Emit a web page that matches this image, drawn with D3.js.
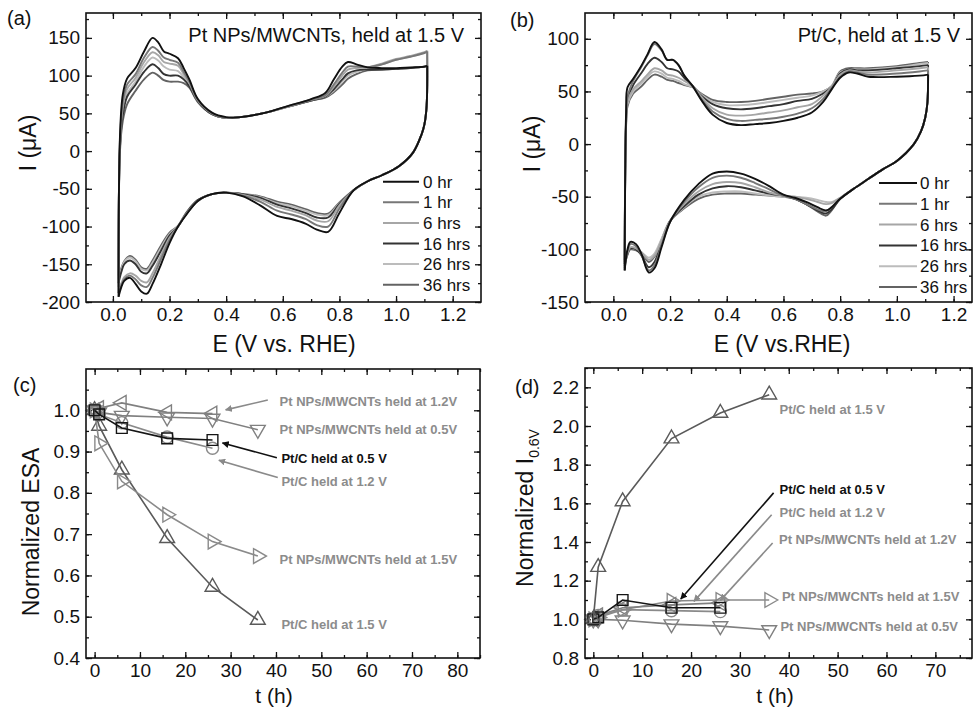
<!DOCTYPE html>
<html>
<head>
<meta charset="utf-8">
<script src="https://cdnjs.cloudflare.com/ajax/libs/d3/7.8.5/d3.min.js"></script>
<style>
body { margin: 0; background: #fff; }
svg { display: block; font-family: "Liberation Sans", Arial, sans-serif; }
.axis text { font-size: 19px; fill: #111; }
.axis path.domain { display: none; }
.axis line { stroke: #111; stroke-width: 1.3; }
.note { font-size: 13px; font-weight: bold; }
</style>
</head>
<body>
<div id="chart"></div>
<script>
// =============================================================================
// data
// =============================================================================

// CV curves ===================================================================
var timeLabels = ["0 hr", "1 hr", "6 hrs", "16 hrs", "26 hrs", "36 hrs"];

// (a) Pt NPs/MWCNTs, anodic scan
var aE_up = [0.02, 0.025, 0.035, 0.05, 0.08, 0.11, 0.14, 0.16, 0.18, 0.2, 0.23, 0.25, 0.27, 0.3, 0.35, 0.4,
             0.45, 0.54, 0.62, 0.7, 0.75, 0.78, 0.81, 0.83, 0.86, 0.9, 0.95, 1.0, 1.05, 1.1, 1.11];
var aI_up = [
    [-193, 20, 75, 96, 110, 132, 150, 144, 132, 129, 123, 110, 95, 69, 51, 45, 45, 51, 60, 69, 77, 95, 112, 118, 115, 111, 110, 110, 111, 112, 113],
    [-188, 15, 65, 88, 102, 124, 138, 133, 124, 121, 117, 105, 92, 68, 50, 44, 45, 51, 60, 68, 74, 88, 104, 112, 112, 111, 115, 121, 125, 130, 132],
    [-180, 10, 58, 82, 97, 118, 131, 127, 118, 116, 113, 102, 90, 67, 50, 44, 45, 51, 59, 68, 73, 85, 100, 108, 110, 111, 116, 122, 126, 131, 133],
    [-175, 5, 48, 72, 88, 105, 115, 110, 102, 100, 100, 95, 86, 66, 49, 44, 45, 51, 59, 67, 72, 82, 95, 103, 107, 108, 108, 109, 110, 112, 113],
    [-170, 5, 52, 76, 92, 112, 124, 120, 112, 108, 106, 98, 88, 66, 49, 44, 45, 51, 59, 67, 72, 80, 92, 100, 105, 109, 115, 121, 125, 130, 133],
    [-165, 0, 40, 62, 80, 95, 104, 100, 94, 92, 92, 90, 84, 65, 49, 44, 45, 51, 59, 67, 71, 78, 88, 96, 102, 107, 108, 109, 110, 112, 113]
];
// (a) cathodic scan
var aE_dn = [1.11, 1.108, 1.1, 1.09, 1.06, 1.01, 0.95, 0.9, 0.85, 0.8, 0.76, 0.72, 0.68, 0.63, 0.58, 0.52,
             0.46, 0.4, 0.35, 0.3, 0.26, 0.23, 0.2, 0.17, 0.14, 0.12, 0.1, 0.08, 0.06, 0.04, 0.03, 0.02];
var aI_dn = [
    [113, 60, 35, 22, -2, -20, -32, -40, -52, -82, -107, -104, -96, -90, -86, -72, -60, -55, -57, -66, -84, -100, -122, -150, -176, -189, -186, -176, -168, -172, -180, -193],
    [132, 60, 35, 22, -2, -20, -32, -40, -52, -76, -100, -98, -90, -84, -79, -67, -59, -55, -57, -66, -83, -100, -118, -143, -168, -180, -178, -170, -165, -170, -178, -188],
    [133, 60, 35, 22, -2, -20, -32, -40, -52, -72, -93, -92, -85, -79, -74, -64, -58, -55, -57, -66, -83, -100, -115, -138, -162, -174, -172, -165, -162, -167, -175, -180],
    [113, 60, 35, 22, -2, -20, -32, -40, -52, -70, -88, -88, -82, -76, -71, -62, -57, -55, -57, -65, -82, -100, -112, -132, -152, -162, -160, -150, -145, -150, -160, -175],
    [133, 60, 35, 22, -2, -20, -32, -40, -52, -69, -85, -84, -79, -73, -69, -61, -57, -55, -57, -65, -82, -99, -110, -128, -148, -158, -156, -146, -141, -147, -157, -170],
    [113, 60, 35, 22, -2, -20, -32, -40, -52, -68, -83, -82, -77, -71, -67, -60, -57, -55, -57, -65, -81, -99, -108, -125, -145, -156, -154, -144, -139, -146, -155, -165]
];

// (b) Pt/C, anodic scan
var bE_up = [0.04, 0.045, 0.05, 0.07, 0.1, 0.12, 0.145, 0.17, 0.19, 0.21, 0.23, 0.25, 0.28, 0.31, 0.35, 0.4,
             0.45, 0.5, 0.55, 0.6, 0.65, 0.7, 0.74, 0.77, 0.8, 0.83, 0.86, 0.9, 1.0, 1.08, 1.11];
var bI_up = [
    [-120, 30, 54, 62, 75, 85, 97, 90, 80, 80, 75, 65, 55, 42, 28, 20, 18, 19, 20, 22, 25, 30, 40, 52, 63, 68, 67, 64, 64, 65, 66],
    [-118, 25, 45, 60, 74, 84, 95, 89, 80, 80, 75, 65, 55, 43, 31, 24, 22, 23, 24, 26, 29, 34, 43, 53, 64, 69, 68, 66, 67, 69, 70],
    [-116, 20, 40, 52, 60, 66, 72, 70, 66, 65, 63, 60, 55, 45, 34, 28, 27, 28, 30, 32, 35, 38, 46, 54, 66, 70, 69, 68, 70, 72, 73],
    [-114, 22, 42, 56, 68, 76, 82, 78, 72, 71, 69, 63, 55, 46, 38, 34, 33, 34, 36, 38, 41, 43, 48, 54, 67, 71, 70, 70, 72, 74, 75],
    [-112, 20, 38, 50, 58, 64, 69, 67, 63, 62, 60, 57, 54, 47, 40, 37, 37, 38, 40, 42, 44, 46, 50, 55, 68, 71, 71, 71, 73, 76, 77],
    [-110, 18, 36, 48, 55, 61, 66, 64, 61, 60, 58, 56, 54, 48, 42, 40, 40, 41, 43, 45, 47, 48, 50, 55, 69, 72, 72, 72, 74, 77, 78]
];
// (b) cathodic scan
var bE_dn = [1.11, 1.108, 1.1, 1.085, 1.06, 1.0, 0.95, 0.9, 0.85, 0.8, 0.77, 0.75, 0.72, 0.68, 0.64, 0.6,
             0.55, 0.5, 0.45, 0.4, 0.35, 0.3, 0.25, 0.2, 0.17, 0.145, 0.125, 0.1, 0.08, 0.06, 0.05, 0.04];
var bI_dn = [
    [66, 40, 25, 12, 0, -16, -24, -33, -42, -52, -60, -63, -60, -55, -51, -48, -40, -33, -28, -26, -28, -38, -53, -74, -98, -118, -122, -105, -95, -93, -100, -120],
    [70, 40, 25, 12, 0, -16, -24, -33, -42, -52, -60, -64, -62, -57, -52, -49, -43, -37, -32, -30, -32, -41, -55, -74, -96, -115, -120, -106, -97, -95, -102, -118],
    [73, 40, 25, 12, 0, -16, -24, -33, -42, -51, -56, -57, -55, -52, -50, -49, -46, -41, -37, -36, -38, -45, -57, -73, -92, -106, -110, -103, -99, -98, -104, -116],
    [75, 40, 25, 12, 0, -16, -24, -33, -42, -52, -62, -66, -63, -57, -52, -49, -47, -44, -41, -40, -42, -48, -59, -73, -94, -112, -117, -106, -100, -99, -105, -114],
    [77, 40, 25, 12, 0, -16, -24, -33, -42, -51, -55, -55, -53, -51, -50, -50, -49, -47, -45, -45, -46, -50, -60, -73, -90, -104, -108, -103, -100, -99, -104, -112],
    [78, 40, 25, 12, 0, -16, -24, -33, -42, -52, -63, -68, -64, -57, -52, -50, -49, -48, -47, -47, -48, -52, -61, -73, -91, -107, -112, -104, -101, -100, -104, -110]
];

// (c) normalized ESA vs time =================================================
var c_t_mw12 = [0, 1, 6, 16, 26];
var c_v_mw12 = [1.0, 1.005, 1.018, 0.995, 0.992];
var c_t_mw05 = [0, 1, 6, 16, 26, 36];
var c_v_mw05 = [1.0, 0.995, 0.987, 0.983, 0.98, 0.953];
var c_t_pc05 = [0, 1, 6, 16, 26];
var c_v_pc05 = [1.0, 0.99, 0.957, 0.932, 0.928];
var c_t_pc12 = [0, 1, 6, 16, 26];
var c_v_pc12 = [1.0, 0.99, 0.97, 0.935, 0.908];
var c_t_mw15 = [0, 1, 6, 16, 26, 36];
var c_v_mw15 = [1.0, 0.92, 0.828, 0.747, 0.682, 0.647];
var c_t_pc15 = [0, 1, 6, 16, 26, 36];
var c_v_pc15 = [1.0, 0.962, 0.856, 0.69, 0.572, 0.492];

// (d) normalized I(0.6 V) vs time ============================================
var d_t_pc15 = [0, 1, 6, 16, 26, 36];
var d_v_pc15 = [1.0, 1.27, 1.61, 1.935, 2.067, 2.162];
var d_t_pc05 = [0, 1, 6, 16, 26];
var d_v_pc05 = [1.0, 1.01, 1.1, 1.06, 1.06];
var d_t_pc12 = [0, 1, 6, 16, 26];
var d_v_pc12 = [1.0, 1.02, 1.05, 1.045, 1.04];
var d_t_mw12 = [0, 1, 6, 16, 26];
var d_v_mw12 = [1.0, 1.02, 1.06, 1.075, 1.085];
var d_t_mw15 = [0, 1, 6, 16, 26, 36];
var d_v_mw15 = [1.0, 1.01, 1.05, 1.095, 1.1, 1.1];
var d_t_mw05 = [0, 1, 6, 16, 26, 36];
var d_v_mw05 = [1.0, 1.0, 0.995, 0.975, 0.965, 0.945];

// annotations: [text, t, value]
var c_notes = [
    ["Pt NPs/MWCNTs held at 1.2V", 40.8, 1.021],
    ["Pt NPs/MWCNTs held at 0.5V", 40.8, 0.953],
    ["Pt/C held at 0.5 V", 41.2, 0.884],
    ["Pt/C held at 1.2 V", 41.2, 0.828],
    ["Pt NPs/MWCNTs held at 1.5V", 40.8, 0.638],
    ["Pt/C held at 1.5 V", 41.2, 0.481]
];
// arrows: [t0, v0, t1, v1]
var c_arrows = [[38.2, 1.025, 28.9, 1.001], [40.2, 0.885, 28.2, 0.921], [40.4, 0.837, 27.4, 0.879]];
var d_notes = [
    ["Pt/C held at 1.5 V", 38.1, 2.088],
    ["Pt/C held at 0.5 V", 38.1, 1.674],
    ["Pt/C held at 1.2 V", 38.1, 1.553],
    ["Pt NPs/MWCNTs held at 1.2V", 38.0, 1.412],
    ["Pt NPs/MWCNTs held at 1.5V", 38.6, 1.119],
    ["Pt NPs/MWCNTs held at 0.5V", 38.3, 0.963]
];
var d_arrows = [[36.9, 1.654, 17.9, 1.105], [36.5, 1.541, 20.6, 1.093], [36.7, 1.395, 26.0, 1.098]];

// ticks =======================================================================
var aXTicks = [0, 0.2, 0.4, 0.6, 0.8, 1.0, 1.2];
var aYTicks = [-200, -150, -100, -50, 0, 50, 100, 150];
var bXTicks = [0, 0.2, 0.4, 0.6, 0.8, 1.0, 1.2];
var bYTicks = [-150, -100, -50, 0, 50, 100];
var cXTicks = [0, 10, 20, 30, 40, 50, 60, 70, 80];
var cYTicks = [0.4, 0.5, 0.6, 0.7, 0.8, 0.9, 1.0];
var dXTicks = [0, 10, 20, 30, 40, 50, 60, 70];
var dYTicks = [0.8, 1.0, 1.2, 1.4, 1.6, 1.8, 2.0, 2.2];

// =============================================================================
// UI
// =============================================================================
var cvColors = ["#111", "#777", "#a6a6a6", "#333", "#bcbcbc", "#636363"];

var svg = d3.select("#chart").append("svg")
    .attr("width", 974)
    .attr("height", 709);

var defs = svg.append("defs");
[["arrGray", "#8a8a8a"], ["arrBlack", "#111"]].forEach(function (m) {
    defs.append("marker")
        .attr("id", m[0])
        .attr("viewBox", "0 0 10 10")
        .attr("refX", 9).attr("refY", 5)
        .attr("markerWidth", 7).attr("markerHeight", 7)
        .attr("markerUnits", "userSpaceOnUse")
        .attr("orient", "auto")
        .append("path")
        .attr("d", "M0,0 L10,5 L0,10 z")
        .attr("fill", m[1]);
});

function numFmt(d) { return String(d); }
function fix1(d) { return d.toFixed(1); }

// build a framed panel with inside ticks on all four sides
function makePanel(box, xDom, yDom, xTicks, yTicks, xMinor, yMinor, xFmt, yFmt) {
    var x = d3.scaleLinear().domain(xDom).range([box.l, box.r]);
    var y = d3.scaleLinear().domain(yDom).range([box.b, box.t]);
    var g = svg.append("g");

    g.append("g").attr("class", "axis").attr("transform", "translate(0," + box.b + ")")
        .call(d3.axisBottom(x).tickValues(xMinor).tickSize(-3).tickFormat(""));
    g.append("g").attr("class", "axis").attr("transform", "translate(0," + box.b + ")")
        .call(d3.axisBottom(x).tickValues(xTicks).tickSize(-6).tickPadding(6).tickFormat(xFmt));
    g.append("g").attr("class", "axis").attr("transform", "translate(0," + box.t + ")")
        .call(d3.axisTop(x).tickValues(xMinor).tickSize(-3).tickFormat(""));
    g.append("g").attr("class", "axis").attr("transform", "translate(0," + box.t + ")")
        .call(d3.axisTop(x).tickValues(xTicks).tickSize(-6).tickFormat(""));

    g.append("g").attr("class", "axis").attr("transform", "translate(" + box.l + ",0)")
        .call(d3.axisLeft(y).tickValues(yMinor).tickSize(-3).tickFormat(""));
    g.append("g").attr("class", "axis").attr("transform", "translate(" + box.l + ",0)")
        .call(d3.axisLeft(y).tickValues(yTicks).tickSize(-6).tickPadding(6).tickFormat(yFmt));
    g.append("g").attr("class", "axis").attr("transform", "translate(" + box.r + ",0)")
        .call(d3.axisRight(y).tickValues(yMinor).tickSize(-3).tickFormat(""));
    g.append("g").attr("class", "axis").attr("transform", "translate(" + box.r + ",0)")
        .call(d3.axisRight(y).tickValues(yTicks).tickSize(-6).tickFormat(""));

    var plot = g.append("g");

    g.append("rect")
        .attr("x", box.l).attr("y", box.t)
        .attr("width", box.r - box.l).attr("height", box.b - box.t)
        .attr("fill", "none").attr("stroke", "#111").attr("stroke-width", 1.6);

    return { x: x, y: y, g: g, plot: plot };
}

function label(txt, x, y, size, anchor) {
    return svg.append("text")
        .attr("x", x).attr("y", y)
        .attr("font-size", size)
        .attr("text-anchor", anchor || "start")
        .attr("fill", "#111")
        .text(txt);
}

function yTitle(txt, x, y) {
    return svg.append("text")
        .attr("transform", "translate(" + x + "," + y + ") rotate(-90)")
        .attr("text-anchor", "middle")
        .attr("font-size", 23)
        .attr("fill", "#111")
        .text(txt);
}

// CV panel ====================================================================
function drawCV(p, Eup, Iup, Edn, Idn, leg) {
    var line = d3.line()
        .x(function (d) { return p.x(d[0]); })
        .y(function (d) { return p.y(d[1]); })
        .curve(d3.curveCatmullRom.alpha(0.5));

    for (var k = timeLabels.length - 1; k >= 0; k--) {
        var up = Eup.map(function (e, i) { return [e, Iup[k][i]]; });
        var dn = Edn.map(function (e, i) { return [e, Idn[k][i]]; });
        [up, dn].forEach(function (pts) {
            p.plot.append("path")
                .attr("d", line(pts))
                .attr("fill", "none")
                .attr("stroke", cvColors[k])
                .attr("stroke-width", 1.9)
                .attr("stroke-linejoin", "round");
        });
    }

    timeLabels.forEach(function (t, k) {
        var yy = leg.y + k * leg.dy;
        p.g.append("line")
            .attr("x1", leg.x1).attr("x2", leg.x2)
            .attr("y1", yy).attr("y2", yy)
            .attr("stroke", cvColors[k]).attr("stroke-width", 2);
        p.g.append("text")
            .attr("x", leg.tx).attr("y", yy + 6)
            .attr("font-size", 17)
            .attr("fill", "#111")
            .text(t);
    });
}

// (a) =========================================================================
var pa = makePanel({ l: 86, r: 481, t: 13, b: 302 }, [-0.095, 1.3], [-200, 183],
    aXTicks, aYTicks, d3.range(0, 1.25, 0.1), d3.range(-200, 180, 25), fix1, numFmt);
drawCV(pa, aE_up, aI_up, aE_dn, aI_dn, { x1: 383, x2: 419, tx: 423, y: 181.7, dy: 20.6 });
label("Pt NPs/MWCNTs, held at 1.5 V", 464, 42, 20, "end");
label("(a)", 7, 25, 20);
yTitle("I (\u03BCA)", 36, 143);
label("E (V vs. RHE)", 284, 352, 23, "middle");

// (b) =========================================================================
var pb = makePanel({ l: 585, r: 972, t: 13, b: 302 }, [-0.1, 1.265], [-150, 124.5],
    bXTicks, bYTicks, d3.range(0, 1.25, 0.1), d3.range(-150, 120, 25), fix1, numFmt);
drawCV(pb, bE_up, bI_up, bE_dn, bI_dn, { x1: 879, x2: 917, tx: 920, y: 183, dy: 20.8 });
label("Pt/C, held at 1.5 V", 960, 42, 20, "end");
label("(b)", 510, 27, 20);
yTitle("I (\u03BCA)", 540, 144);
label("E (V vs.RHE)", 782, 352, 23, "middle");

// (c) / (d) time series =======================================================
var seriesStyle = {
    mw12: { shape: "left", color: "#808080" },
    mw05: { shape: "down", color: "#808080" },
    pc05: { shape: "square", color: "#151515" },
    pc12: { shape: "circle", color: "#8a8a8a" },
    mw15: { shape: "right", color: "#8a8a8a" },
    pc15: { shape: "up", color: "#5a5a5a" }
};

function markerPath(shape) {
    if (shape === "square") return d3.symbol().type(d3.symbolSquare).size(115)();
    if (shape === "circle") return d3.symbol().type(d3.symbolCircle).size(115)();
    return d3.symbol().type(d3.symbolTriangle).size(95)();
}
var rotation = { up: 0, down: 180, left: -90, right: 90, square: 0, circle: 0 };

function drawSeries(p, key, ts, vs) {
    var st = seriesStyle[key];
    var pts = ts.map(function (t, i) { return [t, vs[i]]; });
    var line = d3.line()
        .x(function (d) { return p.x(d[0]); })
        .y(function (d) { return p.y(d[1]); });
    p.plot.append("path")
        .attr("d", line(pts))
        .attr("fill", "none")
        .attr("stroke", st.color)
        .attr("stroke-width", 1.6);
    p.plot.selectAll(null)
        .data(pts)
        .enter()
        .append("path")
        .attr("d", markerPath(st.shape))
        .attr("transform", function (d) {
            return "translate(" + p.x(d[0]) + "," + p.y(d[1]) + ") rotate(" + rotation[st.shape] + ")";
        })
        .attr("fill", "none")
        .attr("stroke", st.color)
        .attr("stroke-width", 1.4);
}

function drawNotes(p, notes, arrows) {
    notes.forEach(function (n) {
        var black = n[0] === "Pt/C held at 0.5 V";
        p.g.append("text")
            .attr("class", "note")
            .attr("x", p.x(n[1])).attr("y", p.y(n[2]))
            .attr("dy", "0.36em")
            .attr("fill", black ? "#111" : "#8c8c8c")
            .text(n[0]);
    });
    arrows.forEach(function (a, i) {
        var black = i === 0;
        p.g.append("line")
            .attr("x1", p.x(a[0])).attr("y1", p.y(a[1]))
            .attr("x2", p.x(a[2])).attr("y2", p.y(a[3]))
            .attr("stroke", black ? "#111" : "#8a8a8a")
            .attr("stroke-width", 1.6)
            .attr("marker-end", black ? "url(#arrBlack)" : "url(#arrGray)");
    });
}

// (c) =========================================================================
var pc = makePanel({ l: 86, r: 480, t: 369, b: 658 }, [-1.9, 85], [0.4, 1.1],
    cXTicks, cYTicks, d3.range(0, 86, 5), d3.range(0.4, 1.1, 0.05), numFmt, fix1);
drawSeries(pc, "pc15", c_t_pc15, c_v_pc15);
drawSeries(pc, "mw15", c_t_mw15, c_v_mw15);
drawSeries(pc, "pc12", c_t_pc12, c_v_pc12);
drawSeries(pc, "mw05", c_t_mw05, c_v_mw05);
drawSeries(pc, "mw12", c_t_mw12, c_v_mw12);
drawSeries(pc, "pc05", c_t_pc05, c_v_pc05);
drawNotes(pc, c_notes, [c_arrows[1], c_arrows[0], c_arrows[2]]);
label("(c)", 13, 392, 20);
yTitle("Normalized ESA", 39, 532);
label("t (h)", 274, 703, 21, "middle");

// (d) =========================================================================
var pd = makePanel({ l: 585, r: 972, t: 368, b: 658 }, [-1.7, 77.5], [0.8, 2.3],
    dXTicks, dYTicks, d3.range(0, 76, 5), d3.range(0.8, 2.31, 0.1), numFmt, fix1);
drawSeries(pd, "mw05", d_t_mw05, d_v_mw05);
drawSeries(pd, "mw15", d_t_mw15, d_v_mw15);
drawSeries(pd, "mw12", d_t_mw12, d_v_mw12);
drawSeries(pd, "pc12", d_t_pc12, d_v_pc12);
drawSeries(pd, "pc05", d_t_pc05, d_v_pc05);
drawSeries(pd, "pc15", d_t_pc15, d_v_pc15);
drawNotes(pd, d_notes, d_arrows);
label("(d)", 515, 394, 20);
var dyt = yTitle("Normalized I", 533, 508);
dyt.append("tspan").attr("font-size", 14).attr("dy", 6).text("0.6V");
label("t (h)", 775, 703, 21, "middle");
</script>
</body>
</html>
